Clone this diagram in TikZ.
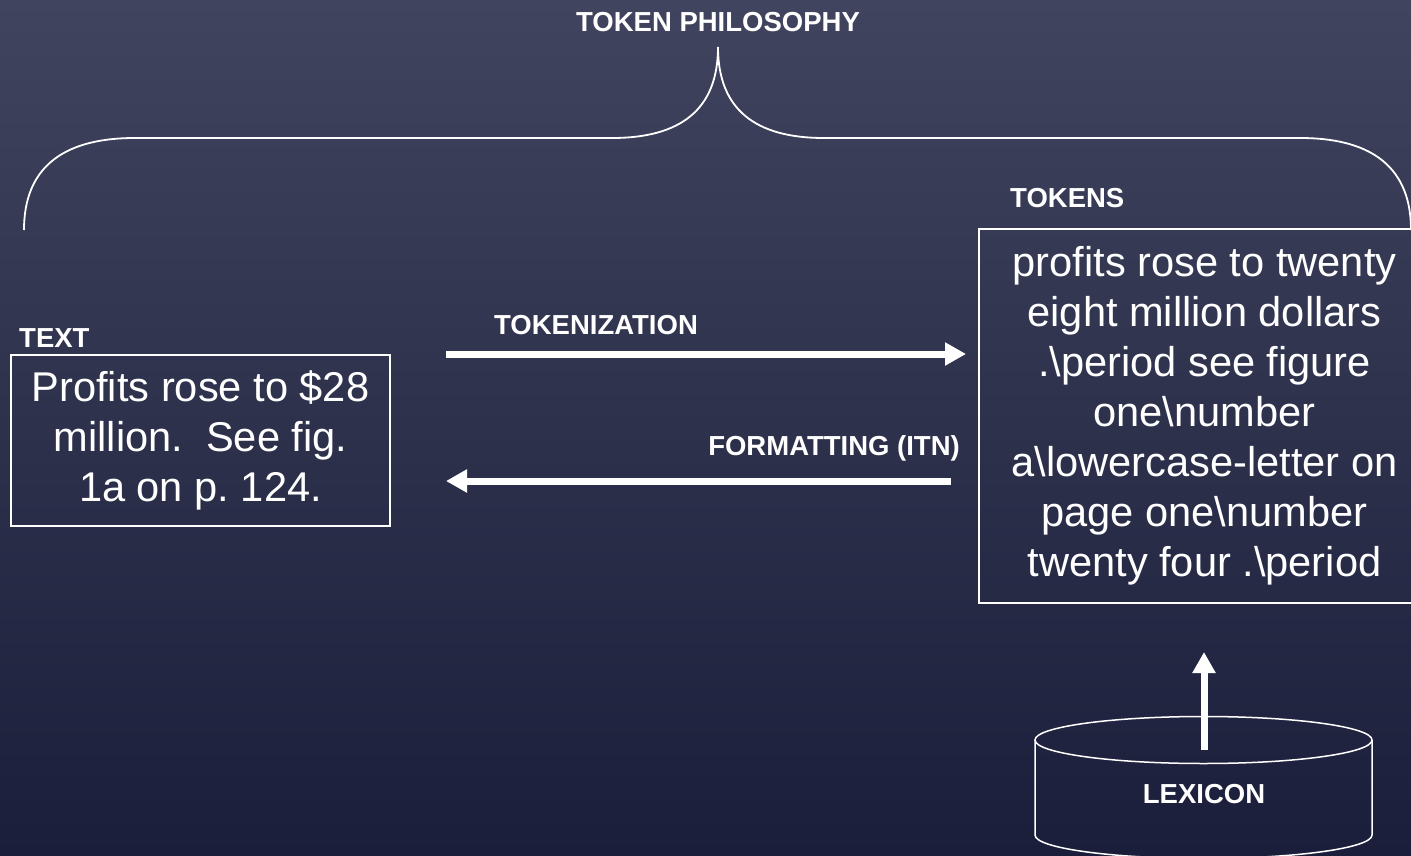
\documentclass[tikz,border=0pt]{standalone}
\usepackage{fontspec}
\setmainfont{Liberation Sans}
\usetikzlibrary{arrows.meta}
\definecolor{bgtop}{RGB}{65,68,94}
\definecolor{bgbot}{RGB}{27,30,58}
\frenchspacing
\begin{document}
\begin{tikzpicture}[x=1pt,y=-1pt,
  lbl/.style={text=white,font=\fontsize{27.5}{33}\selectfont\bfseries,inner sep=0pt},
  bigbox/.style={draw=white,line width=1.5pt,text=white,align=center,
    font=\fontsize{41.6}{50}\selectfont,inner sep=0pt},
  fatarrow/.style={draw=white,line width=7pt,
    -{Triangle[length=21pt,width=22pt]}},
  thin/.style={draw=white,line width=1.8pt}]
\useasboundingbox (0,0) rectangle (1411,856);
\shade[top color=bgtop,bottom color=bgbot] (0,0) rectangle (1411,856);
% title and brace
\node[lbl] (title) at (718,22) {TOKEN PHILOSOPHY};
\draw[thin] (24,230) .. controls (24,170) and (60,138) .. (135,138)
  -- (612,138) .. controls (680,138) and (718,110) .. (718,47)
  .. controls (718,110) and (756,138) .. (824,138)
  -- (1300,138) .. controls (1375,138) and (1411,170) .. (1411,230);
% text box
\node[lbl,anchor=west] (textlbl) at (19,338) {TEXT};
\node[bigbox,minimum width=379pt,minimum height=171pt] (txt) at (200.5,440.5)
  {Profits rose to \$28\\million.\ \ See fig.\\1a on p. 124.};
% tokens box
\node[lbl,anchor=west] (toklbl) at (1010,198) {TOKENS};
\node[bigbox,minimum width=451pt,minimum height=374pt] (tok) at (1204.5,416)
  {profits rose to twenty\\eight million dollars\\.\textbackslash period see figure\\one\textbackslash number\\a\textbackslash lowercase-letter on\\page one\textbackslash number\\twenty four .\textbackslash period};
% arrows
\node[lbl] (tokz) at (596,325) {TOKENIZATION};
\coordinate (r1) at (446,354);
\coordinate (r2) at (966,354);
\draw[fatarrow] (r1) -- (r2);
\node[lbl,anchor=east] (fmt) at (960,448) {FORMATTING (ITN)};
\coordinate (l1) at (951,481);
\coordinate (l2) at (446,481);
\draw[fatarrow] (l1) -- (l2);
% lexicon cylinder
\draw[thin,line width=1.5pt] (1203.5,740) ellipse [x radius=168.5, y radius=23.5];
\draw[thin,line width=1.5pt] (1035,740) -- (1035,835)
  arc[start angle=180,end angle=0,x radius=168.5,y radius=23.5] -- (1372,740);
\node[lbl] (lex) at (1204,794) {LEXICON};
\coordinate (u1) at (1204,750);
\coordinate (u2) at (1204,652);
\draw[fatarrow] (u1) -- (u2);
\end{tikzpicture}
\end{document}
